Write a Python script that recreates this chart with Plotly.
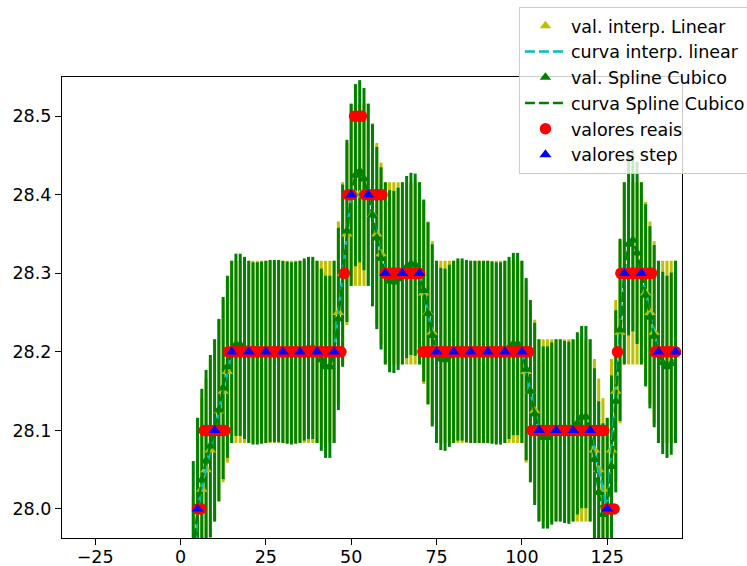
import plotly.graph_objects as go

# Sampled ("step") readings every 5 units; the first one sits below the visible window.
step_x = [0, 5, 10, 15, 20, 25, 30, 35, 40, 45, 50, 55, 60, 65, 70, 75,
          80, 85, 90, 95, 100, 105, 110, 115, 120, 125, 130, 135, 140, 145]
step_y = [27.6, 28.0, 28.1, 28.2, 28.2, 28.2, 28.2, 28.2, 28.2, 28.2, 28.4, 28.4,
          28.3, 28.3, 28.3, 28.2, 28.2, 28.2, 28.2, 28.2, 28.2, 28.1, 28.1,
          28.1, 28.1, 28.0, 28.3, 28.3, 28.2, 28.2]

# Actual readings, one per unit.
real_x = [5, 6, 7, 8, 9, 10, 11, 12, 13, 14, 15, 16, 17, 18, 19, 20, 21, 22, 23, 24,
          25, 26, 27, 28, 29, 30, 31, 32, 33, 34, 35, 36, 37, 38, 39, 40, 41, 42, 43, 44,
          45, 46, 47, 48, 49, 50, 51, 52, 53, 54, 55, 56, 57, 58, 59, 60, 61, 62, 63, 64,
          65, 66, 67, 68, 69, 70, 71, 72, 73, 74, 75, 76, 77, 78, 79, 80, 81, 82, 83, 84,
          85, 86, 87, 88, 89, 90, 91, 92, 93, 94, 95, 96, 97, 98, 99, 100, 101, 102, 103, 104,
          105, 106, 107, 108, 109, 110, 111, 112, 113, 114, 115, 116, 117, 118, 119, 120,
          121, 122, 123, 124, 125, 126, 127, 128, 129, 130, 131, 132, 133, 134, 135, 136,
          137, 138, 139, 140, 141, 142, 143, 144, 145]
real_y = [28.0, 28.0,
          28.1, 28.1, 28.1, 28.1, 28.1, 28.1, 28.1,
          28.2, 28.2, 28.2, 28.2, 28.2, 28.2, 28.2, 28.2, 28.2, 28.2, 28.2, 28.2,
          28.2, 28.2, 28.2, 28.2, 28.2, 28.2, 28.2, 28.2, 28.2, 28.2, 28.2, 28.2,
          28.2, 28.2, 28.2, 28.2, 28.2, 28.2, 28.2, 28.2, 28.2, 28.2,
          28.3, 28.4, 28.4, 28.5, 28.5, 28.5,
          28.4, 28.4, 28.4, 28.4, 28.4, 28.4,
          28.3, 28.3, 28.3, 28.3, 28.3, 28.3, 28.3, 28.3, 28.3, 28.3, 28.3,
          28.2, 28.2, 28.2, 28.2, 28.2, 28.2, 28.2, 28.2, 28.2, 28.2, 28.2, 28.2,
          28.2, 28.2, 28.2, 28.2, 28.2, 28.2, 28.2, 28.2, 28.2, 28.2, 28.2, 28.2,
          28.2, 28.2, 28.2, 28.2, 28.2, 28.2, 28.2, 28.2,
          28.1, 28.1, 28.1, 28.1, 28.1, 28.1, 28.1, 28.1, 28.1, 28.1, 28.1,
          28.1, 28.1, 28.1, 28.1, 28.1, 28.1, 28.1, 28.1, 28.1, 28.1, 28.1,
          28.0, 28.0, 28.0, 28.2,
          28.3, 28.3, 28.3, 28.3, 28.3, 28.3, 28.3, 28.3, 28.3, 28.3,
          28.2, 28.2, 28.2, 28.2, 28.2, 28.2, 28.2]

# Evaluation grid for the two interpolations.
grid_x = [3.75, 5.0, 6.25, 7.5, 8.75, 10.0, 11.25, 12.5, 13.75, 15.0, 16.25, 17.5,
          18.75, 20.0, 21.25, 22.5, 23.75, 25.0, 26.25, 27.5, 28.75, 30.0, 31.25, 32.5,
          33.75, 35.0, 36.25, 37.5, 38.75, 40.0, 41.25, 42.5, 43.75, 45.0, 46.25, 47.5,
          48.75, 50.0, 51.25, 52.5, 53.75, 55.0, 56.25, 57.5, 58.75, 60.0, 61.25, 62.5,
          63.75, 65.0, 66.25, 67.5, 68.75, 70.0, 71.25, 72.5, 73.75, 75.0, 76.25, 77.5,
          78.75, 80.0, 81.25, 82.5, 83.75, 85.0, 86.25, 87.5, 88.75, 90.0, 91.25, 92.5,
          93.75, 95.0, 96.25, 97.5, 98.75, 100.0, 101.25, 102.5, 103.75, 105.0, 106.25,
          107.5, 108.75, 110.0, 111.25, 112.5, 113.75, 115.0, 116.25, 117.5, 118.75,
          120.0, 121.25, 122.5, 123.75, 125.0, 126.25, 127.5, 128.75, 130.0, 131.25,
          132.5, 133.75, 135.0, 136.25, 137.5, 138.75, 140.0, 141.25, 142.5, 143.75, 145.0]

# Linear interpolation values on the grid.
lin_y = [27.900, 28.000, 28.025, 28.050, 28.075, 28.100, 28.125, 28.150, 28.175, 28.200,
         28.200, 28.200, 28.200, 28.200, 28.200, 28.200, 28.200, 28.200, 28.200, 28.200,
         28.200, 28.200, 28.200, 28.200, 28.200, 28.200, 28.200, 28.200, 28.200, 28.200,
         28.200, 28.200, 28.200, 28.200, 28.250, 28.300, 28.350, 28.400, 28.400, 28.400,
         28.400, 28.400, 28.375, 28.350, 28.325, 28.300, 28.300, 28.300, 28.300, 28.300,
         28.300, 28.300, 28.300, 28.300, 28.275, 28.250, 28.225, 28.200, 28.200, 28.200,
         28.200, 28.200, 28.200, 28.200, 28.200, 28.200, 28.200, 28.200, 28.200, 28.200,
         28.200, 28.200, 28.200, 28.200, 28.200, 28.200, 28.200, 28.200, 28.175, 28.150,
         28.125, 28.100, 28.100, 28.100, 28.100, 28.100, 28.100, 28.100, 28.100, 28.100,
         28.100, 28.100, 28.100, 28.100, 28.075, 28.050, 28.025, 28.000, 28.075, 28.150,
         28.225, 28.300, 28.300, 28.300, 28.300, 28.300, 28.275, 28.250, 28.225, 28.200,
         28.200, 28.200, 28.200, 28.200]

# Cubic spline values on the grid.
spl_y = [27.945, 28.000, 28.037, 28.061, 28.080, 28.100, 28.126, 28.154, 28.181, 28.200,
         28.209, 28.209, 28.205, 28.200, 28.198, 28.198, 28.199, 28.200, 28.201, 28.201,
         28.201, 28.200, 28.199, 28.198, 28.199, 28.200, 28.203, 28.205, 28.205, 28.200,
         28.190, 28.181, 28.181, 28.200, 28.242, 28.297, 28.354, 28.400, 28.425, 28.430,
         28.420, 28.400, 28.374, 28.345, 28.319, 28.300, 28.290, 28.289, 28.293, 28.300,
         28.308, 28.312, 28.311, 28.300, 28.278, 28.249, 28.221, 28.200, 28.191, 28.190,
         28.195, 28.200, 28.203, 28.203, 28.201, 28.200, 28.200, 28.200, 28.200, 28.200,
         28.199, 28.198, 28.198, 28.200, 28.205, 28.210, 28.210, 28.200, 28.178, 28.150,
         28.121, 28.100, 28.091, 28.091, 28.096, 28.100, 28.100, 28.098, 28.097, 28.100,
         28.109, 28.117, 28.117, 28.100, 28.063, 28.021, 27.993, 28.000, 28.054, 28.137,
         28.228, 28.300, 28.337, 28.342, 28.326, 28.300, 28.272, 28.244, 28.220, 28.200,
         28.186, 28.181, 28.185, 28.200]

# Uncertainty (same for every interpolated value).
err_val = 0.116
err = [err_val] * len(grid_x)

x_ticks = [-25, 0, 25, 50, 75, 100, 125]
x_tick_text = ["\u221225", "0", "25", "50", "75", "100", "125"]
y_ticks = [28.0, 28.1, 28.2, 28.3, 28.4, 28.5]
y_tick_text = ["28.0", "28.1", "28.2", "28.3", "28.4", "28.5"]

YEL, GRN, CYN, RED, BLU = "#bfbf00", "#008000", "#00bfbf", "#ff0000", "#0000ff"
font = dict(family="DejaVu Sans", size=17.5, color="#000000")
hidden = dict(size=1, color="rgba(0,0,0,0)")

fig = go.Figure()
# error bars first so every marker sits on top of them
fig.add_trace(go.Scatter(x=grid_x, y=lin_y, mode="markers", showlegend=False, marker=hidden,
                         error_y=dict(type="data", array=err, color=YEL, thickness=3.0, width=0)))
fig.add_trace(go.Scatter(x=grid_x, y=spl_y, mode="markers", showlegend=False, marker=hidden,
                         error_y=dict(type="data", array=err, color=GRN, thickness=3.0, width=0)))
fig.add_trace(go.Scatter(x=grid_x, y=lin_y, mode="markers", name="val. interp. Linear",
                         marker=dict(symbol="triangle-up", size=10, color=YEL)))
fig.add_trace(go.Scatter(x=grid_x, y=lin_y, mode="lines", name="curva interp. linear",
                         line=dict(color=CYN, width=2.4, dash="10px,4px")))
fig.add_trace(go.Scatter(x=grid_x, y=spl_y, mode="markers", name="val. Spline Cubico",
                         marker=dict(symbol="triangle-up", size=10, color=GRN)))
fig.add_trace(go.Scatter(x=grid_x, y=spl_y, mode="lines", name="curva Spline Cubico",
                         line=dict(color=GRN, width=2.4, dash="10px,4px")))
fig.add_trace(go.Scatter(x=real_x, y=real_y, mode="markers", name="valores reais",
                         marker=dict(symbol="circle", size=11.5, color=RED)))
fig.add_trace(go.Scatter(x=step_x, y=step_y, mode="markers", name="valores step",
                         marker=dict(symbol="triangle-up", size=10.5, color=BLU)))

axis = dict(showline=True, mirror=True, linecolor="#000000", linewidth=1.3,
            ticks="outside", ticklen=6, tickwidth=1.3, tickcolor="#000000",
            showgrid=False, zeroline=False, tickfont=font)
fig.update_xaxes(range=[-34.7, 146.9], tickvals=x_ticks, ticktext=x_tick_text,
                 ticklabelstandoff=-3, **axis)
fig.update_yaxes(range=[27.963, 28.55], tickvals=y_ticks, ticktext=y_tick_text, **axis)
fig.update_layout(width=747, height=566,
                  margin=dict(l=62, r=65, t=77, b=28, autoexpand=False),
                  paper_bgcolor="white", plot_bgcolor="white", font=font,
                  legend=dict(x=0.737, y=1.152, xanchor="left", yanchor="top",
                              itemwidth=41, bgcolor="rgba(255,255,255,0.8)",
                              bordercolor="#cccccc", borderwidth=1, font=font,
                              tracegroupgap=0))
fig.write_html("out.html")
